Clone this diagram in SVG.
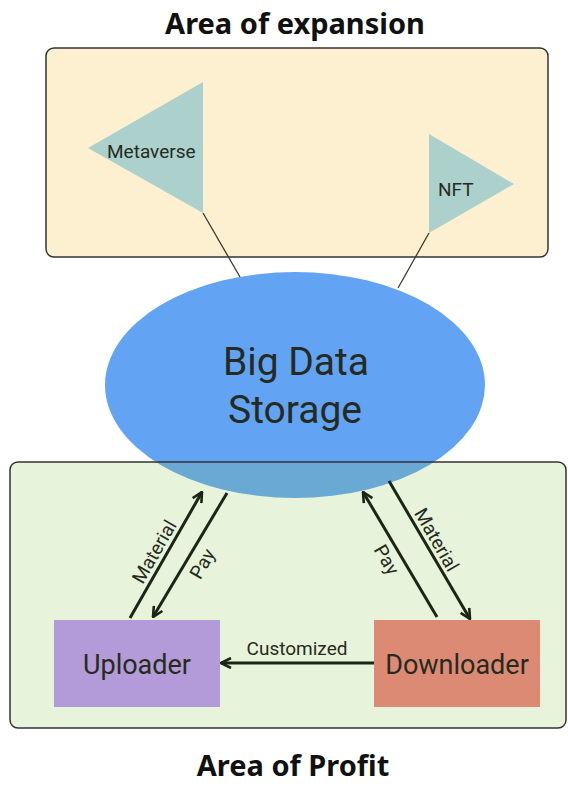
<svg xmlns="http://www.w3.org/2000/svg" width="568" height="786" viewBox="0 0 568 786">
<style>
.title{font-family:"Noto Sans","Open Sans",sans-serif;font-weight:bold;font-size:29px;fill:#111;text-anchor:middle}
.lbl{font-family:Roboto,"Liberation Sans",sans-serif;fill:#262b20}
.arr{stroke:#1c2616;stroke-width:3;fill:none}
.thin{stroke:#3a3a30;stroke-width:1.3;fill:none}
</style>
<defs>
<marker id="ah" viewBox="0 0 12 12" refX="11" refY="6" markerWidth="12" markerHeight="12" markerUnits="userSpaceOnUse" orient="auto">
<path d="M1,1 L11,6 L1,11" fill="none" stroke="#1c2616" stroke-width="2.6"/>
</marker>
</defs>
<text class="title" x="295" y="34">Area of expansion</text>
<g id="area-expansion"><rect x="46" y="48" width="502" height="209" rx="8" fill="#fdf0d0" stroke="#333" stroke-width="1.5"/></g>
<g id="metaverse"><polygon points="88,148 203,82 203,213" fill="#acd1cc"/><text class="lbl" x="107" y="158" font-size="19">Metaverse</text></g>
<g id="nft"><polygon points="429,134 514,184 429,233" fill="#acd1cc"/><text class="lbl" x="438" y="196" font-size="19">NFT</text></g>
<g id="connectors-top">
<line class="thin" x1="203" y1="213" x2="240" y2="277"/>
<line class="thin" x1="429" y1="233" x2="398" y2="288"/>
</g>
<g id="big-data-storage"><ellipse cx="295" cy="385" rx="190" ry="113" fill="#62a3f4"/>
<text class="lbl" x="296" y="375" font-size="39" text-anchor="middle" fill="#111">Big Data</text>
<text class="lbl" x="295" y="423" font-size="39" text-anchor="middle" fill="#111">Storage</text></g>
<g id="area-profit"><rect x="10" y="462" width="556" height="266" rx="8" fill="#8cc350" fill-opacity="0.2" stroke="#333" stroke-width="1.5"/></g>
<g id="connectors">
<line class="arr" x1="130" y1="618" x2="202" y2="492" marker-end="url(#ah)"/>
<line class="arr" x1="227" y1="493" x2="153" y2="617" marker-end="url(#ah)"/>
<line class="arr" x1="437" y1="617" x2="363" y2="492" marker-end="url(#ah)"/>
<line class="arr" x1="389" y1="481" x2="470" y2="619" marker-end="url(#ah)"/>
<line class="arr" x1="374" y1="663" x2="221" y2="663" marker-end="url(#ah)"/>
<text class="lbl" font-size="19" text-anchor="middle" transform="translate(160,555) rotate(-60)">Material</text>
<text class="lbl" font-size="19" text-anchor="middle" transform="translate(208,567) rotate(-60)">Pay</text>
<text class="lbl" font-size="19" text-anchor="middle" transform="translate(431,543) rotate(60)">Material</text>
<text class="lbl" font-size="19" text-anchor="middle" transform="translate(381,563) rotate(60)">Pay</text>
<text class="lbl" font-size="19" x="297" y="655" text-anchor="middle">Customized</text>
</g>
<g id="uploader"><rect x="54" y="620" width="166" height="87" fill="#b39ad8"/><text class="lbl" x="137" y="674" font-size="27" text-anchor="middle">Uploader</text></g>
<g id="downloader"><rect x="374" y="620" width="166" height="87" fill="#dd8a75"/><text class="lbl" x="457" y="674" font-size="27" text-anchor="middle">Downloader</text></g>
<text class="title" x="293" y="776">Area of Profit</text>
</svg>
